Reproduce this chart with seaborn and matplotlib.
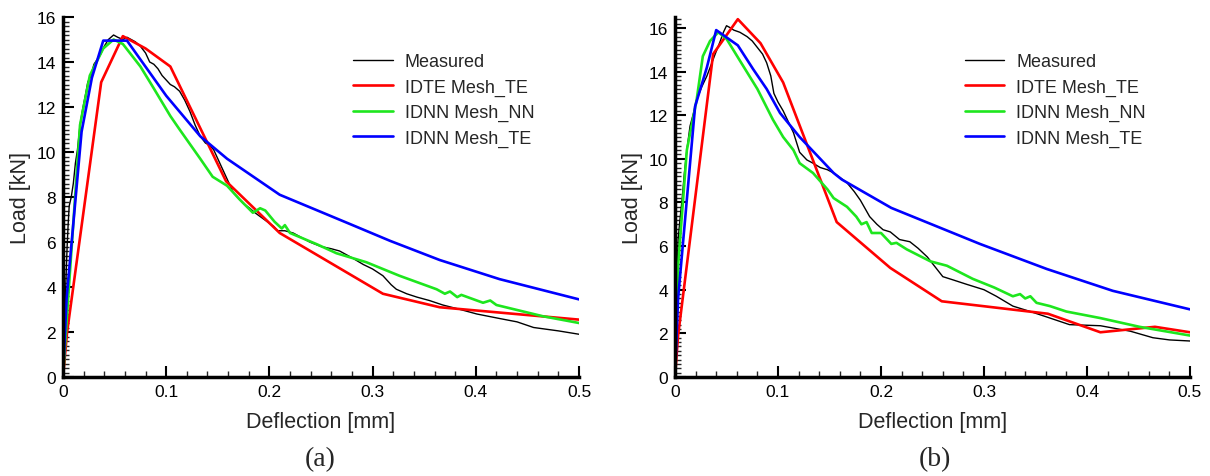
import matplotlib
matplotlib.use("Agg")
import matplotlib.pyplot as plt
from matplotlib.ticker import MultipleLocator, FixedLocator
import seaborn as sns
import pandas as pd

# ---------------- data (a) ----------------
meas_a_x = [0, 0.001, 0.002, 0.003, 0.004, 0.005, 0.006, 0.008, 0.010, 0.012,
            0.014, 0.0165, 0.019, 0.022, 0.024, 0.027, 0.030, 0.033, 0.036, 0.040,
            0.044, 0.049, 0.053, 0.058, 0.062, 0.066, 0.070, 0.075, 0.080, 0.084,
            0.088, 0.092, 0.096, 0.100, 0.104, 0.108, 0.113, 0.118, 0.123, 0.128,
            0.133, 0.138, 0.142, 0.146, 0.150, 0.155, 0.159, 0.165, 0.170, 0.175,
            0.181, 0.186, 0.192, 0.198, 0.204, 0.208, 0.215, 0.223, 0.231, 0.239,
            0.250, 0.260, 0.268, 0.280, 0.291, 0.300, 0.310, 0.318, 0.323, 0.333,
            0.343, 0.355, 0.368, 0.385, 0.401, 0.423, 0.440, 0.456, 0.480, 0.500]
meas_a_y = [0, 1.5, 3.0, 4.5, 5.8, 6.8, 7.6, 8.0, 8.6, 9.5,
            10.1, 11.2, 11.9, 12.6, 13.1, 13.4, 13.9, 14.1, 14.3, 14.7,
            15.0, 15.2, 15.1, 15.0, 15.1, 15.0, 14.9, 14.7, 14.4, 14.0,
            13.9, 13.7, 13.4, 13.2, 13.0, 12.9, 12.7, 12.3, 11.8, 11.2,
            10.7, 10.4, 10.3, 10.1, 9.7, 9.2, 8.8, 8.2, 7.95, 7.7,
            7.5, 7.3, 7.1, 6.9, 6.7, 6.5, 6.5, 6.4, 6.2, 6.0,
            5.8, 5.7, 5.6, 5.3, 5.0, 4.8, 4.5, 4.1, 3.9, 3.7,
            3.55, 3.4, 3.2, 3.0, 2.8, 2.6, 2.45, 2.2, 2.05, 1.9]

idte_a_x = [0, 0.004, 0.037, 0.058, 0.080, 0.104, 0.158, 0.210, 0.310, 0.365, 0.500]
idte_a_y = [0, 2.0, 13.1, 15.15, 14.6, 13.8, 8.7, 6.4, 3.7, 3.1, 2.55]

nnnn_a_x = [0, 0.005, 0.0165, 0.026, 0.039, 0.049, 0.058, 0.075, 0.087, 0.104,
            0.113, 0.133, 0.145, 0.159, 0.171, 0.184, 0.191, 0.196, 0.205, 0.212,
            0.215, 0.220, 0.246, 0.265, 0.294, 0.326, 0.362, 0.370, 0.375, 0.382,
            0.386, 0.407, 0.414, 0.420, 0.465, 0.500]
nnnn_a_y = [0, 3.5, 11.2, 13.4, 14.6, 15.0, 14.8, 13.8, 12.9, 11.6,
            11.0, 9.7, 8.9, 8.5, 7.9, 7.3, 7.5, 7.4, 6.9, 6.6,
            6.75, 6.4, 5.9, 5.5, 5.1, 4.5, 3.9, 3.7, 3.8, 3.55,
            3.65, 3.3, 3.4, 3.2, 2.7, 2.4]

nnte_a_x = [0, 0.0035, 0.018, 0.028, 0.039, 0.062, 0.100, 0.133, 0.159, 0.210,
            0.278, 0.317, 0.365, 0.423, 0.500]
nnte_a_y = [0, 3.5, 10.9, 13.3, 14.95, 14.95, 12.5, 10.7, 9.7, 8.1,
            6.8, 6.05, 5.2, 4.35, 3.45]

# ---------------- data (b) ----------------
meas_b_x = [0, 0.001, 0.002, 0.003, 0.005, 0.0068, 0.009, 0.0115, 0.0146, 0.018,
            0.021, 0.026, 0.031, 0.035, 0.039, 0.044, 0.047, 0.050, 0.054, 0.057,
            0.063, 0.070, 0.075, 0.080, 0.085, 0.089, 0.093, 0.096, 0.100, 0.105,
            0.110, 0.115, 0.121, 0.128, 0.134, 0.141, 0.148, 0.154, 0.160, 0.167,
            0.174, 0.180, 0.189, 0.196, 0.202, 0.209, 0.218, 0.228, 0.236, 0.245,
            0.260, 0.270, 0.283, 0.300, 0.312, 0.328, 0.345, 0.361, 0.383, 0.413,
            0.442, 0.464, 0.480, 0.500]
meas_b_y = [0, 2.5, 4.5, 6.3, 7.3, 8.1, 9.3, 10.4, 11.5, 12.1,
            12.7, 13.3, 13.8, 14.3, 14.8, 15.4, 15.8, 16.1, 16.0, 15.9,
            15.8, 15.6, 15.4, 15.1, 14.8, 14.4, 13.8, 13.0, 12.6, 12.2,
            11.7, 11.2, 10.3, 9.95, 9.8, 9.6, 9.5, 9.35, 9.15, 8.9,
            8.5, 8.1, 7.35, 7.0, 6.75, 6.65, 6.3, 6.2, 5.9, 5.5,
            4.6, 4.45, 4.25, 4.0, 3.7, 3.25, 3.0, 2.75, 2.4, 2.35,
            2.1, 1.8, 1.7, 1.65]

idte_b_x = [0, 0.003, 0.037, 0.061, 0.083, 0.105, 0.157, 0.209, 0.259, 0.362,
            0.413, 0.466, 0.500]
idte_b_y = [0, 1.9, 14.8, 16.4, 15.3, 13.5, 7.1, 5.0, 3.47, 2.9,
            2.05, 2.3, 2.05]

nnnn_b_x = [0, 0.003, 0.0115, 0.021, 0.027, 0.034, 0.042, 0.050, 0.063, 0.080,
            0.095, 0.105, 0.115, 0.121, 0.134, 0.148, 0.154, 0.167, 0.176, 0.181,
            0.186, 0.191, 0.200, 0.206, 0.210, 0.215, 0.225, 0.248, 0.264, 0.289,
            0.310, 0.328, 0.335, 0.340, 0.345, 0.351, 0.364, 0.380, 0.413, 0.451,
            0.500]
nnnn_b_y = [0, 5.1, 10.4, 12.7, 14.7, 15.4, 15.8, 15.5, 14.5, 13.2,
            11.8, 11.0, 10.4, 9.8, 9.35, 8.6, 8.2, 7.8, 7.35, 7.0,
            7.1, 6.6, 6.6, 6.3, 6.1, 6.15, 5.85, 5.3, 5.1, 4.5,
            4.1, 3.7, 3.8, 3.6, 3.7, 3.4, 3.25, 3.0, 2.7, 2.3,
            1.9]

nnte_b_x = [0, 0.003, 0.0195, 0.031, 0.040, 0.061, 0.076, 0.089, 0.102, 0.121,
            0.154, 0.162, 0.210, 0.296, 0.361, 0.425, 0.500]
nnte_b_y = [0, 3.6, 12.4, 14.2, 15.9, 15.2, 14.1, 13.2, 12.1, 11.0,
            9.35, 9.05, 7.75, 6.1, 4.95, 3.95, 3.1]

series_names = ["Measured", "IDTE Mesh_TE", "IDNN Mesh_NN", "IDNN Mesh_TE"]
x_ticks = [0, 0.1, 0.2, 0.3, 0.4, 0.5]
x_tick_labels = ["0", "0.1", "0.2", "0.3", "0.4", "0.5"]
y_ticks = [0, 2, 4, 6, 8, 10, 12, 14, 16]
y_tick_labels = ["0", "2", "4", "6", "8", "10", "12", "14", "16"]
panel_labels = ["(a)", "(b)"]
x_label = "Deflection [mm]"
y_label = "Load [kN]"

# ---------------- style ----------------
sns.set_style("ticks")
plt.rcParams["font.family"] = ["Liberation Sans", "DejaVu Sans"]

colors = ["black", "#ff0000", "#1ee61e", "#0000ff"]
widths = [1.0, 1.9, 1.9, 1.9]

fig = plt.figure(figsize=(12.1, 4.77), dpi=100)
ax_a = fig.add_axes([63 / 1210, 99 / 477, 516 / 1210, 360 / 477])
ax_b = fig.add_axes([675 / 1210, 99 / 477, 515 / 1210, 360 / 477])

panels = [
    (ax_a, [(meas_a_x, meas_a_y), (idte_a_x, idte_a_y), (nnnn_a_x, nnnn_a_y), (nnte_a_x, nnte_a_y)], 16.0, 320),
    (ax_b, [(meas_b_x, meas_b_y), (idte_b_x, idte_b_y), (nnnn_b_x, nnnn_b_y), (nnte_b_x, nnte_b_y)], 16.5, 935),
]

for i, (ax, data, ytop, cx) in enumerate(panels):
    for (xs, ys), name, c, lw in zip(data, series_names, colors, widths):
        df = pd.DataFrame({"x": xs, "y": ys})
        sns.lineplot(data=df, x="x", y="y", ax=ax, color=c, linewidth=lw,
                     label=name, sort=False, estimator=None)
    ax.set_xlim(0, 0.5)
    ax.set_ylim(0, ytop)
    ax.xaxis.set_major_locator(FixedLocator(x_ticks))
    ax.set_xticklabels(x_tick_labels)
    ax.yaxis.set_major_locator(FixedLocator(y_ticks))
    ax.set_yticklabels(y_tick_labels)
    ax.xaxis.set_minor_locator(MultipleLocator(0.02))
    ax.yaxis.set_minor_locator(MultipleLocator(0.2))
    ax.tick_params(which="major", direction="in", length=8, width=1.5,
                   labelsize=12.5, pad=5, colors="black")
    ax.tick_params(which="minor", direction="in", length=4.5, width=1.0)
    for s in ["top", "right"]:
        ax.spines[s].set_visible(False)
    for s in ["left", "bottom"]:
        ax.spines[s].set_linewidth(2.5)
        ax.spines[s].set_color("black")
    ax.set_xlabel(x_label, fontsize=15.5)
    ax.set_ylabel(y_label, fontsize=15.5)
    ax.xaxis.set_label_coords(0.5, -0.094)
    ax.yaxis.set_label_coords(-0.062, 0.5)
    ax.legend(loc="upper left", bbox_to_anchor=(0.538, 0.935), frameon=False,
              fontsize=13, handlelength=2.2, handletextpad=0.65,
              labelspacing=0.46, borderpad=0.2)
    fig.text(cx / 1210, 1 - 460 / 477, panel_labels[i], ha="center", va="center",
             fontsize=20, family=["Liberation Serif", "DejaVu Serif"])

fig.savefig("out.png", dpi=100)
